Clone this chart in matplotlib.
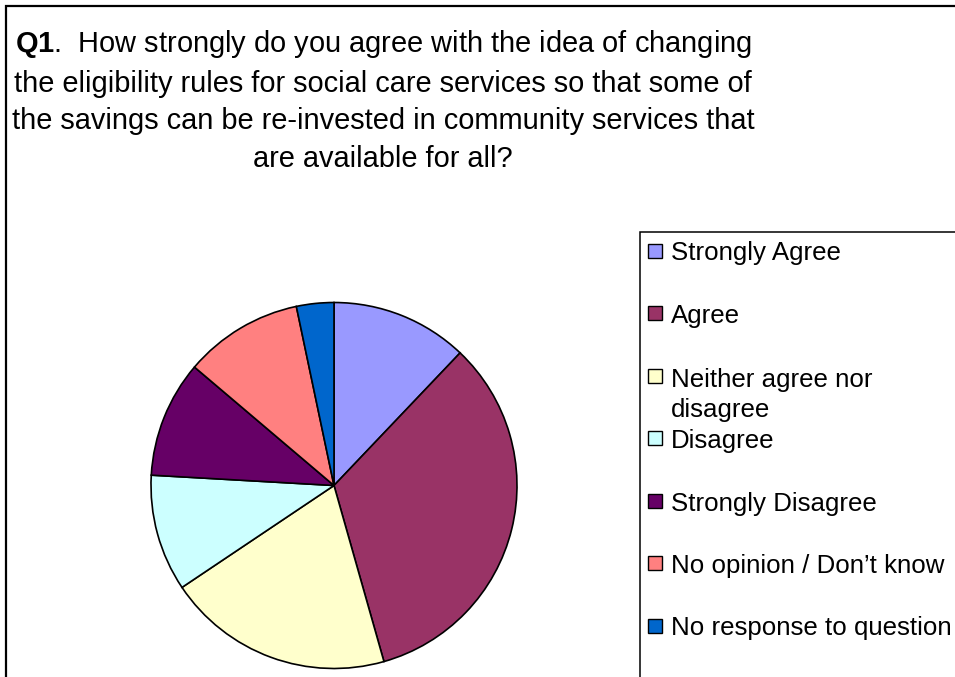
import matplotlib
matplotlib.use("Agg")
import matplotlib.pyplot as plt
from matplotlib.patches import Rectangle

# ---- data ----
categories = ["Strongly Agree", "Agree", "Neither agree nor\ndisagree", "Disagree",
              "Strongly Disagree", "No opinion / Don\u2019t know", "No response to question"]
values = [12.1, 33.5, 20.0, 10.3, 10.3, 10.5, 3.3]
colors = ["#9999FF", "#993366", "#FFFFCC", "#CCFFFF", "#660066", "#FF8080", "#0066CC"]
title_lines = ["$\\mathbf{Q1}$.  How strongly do you agree with the idea of changing",
               "the eligibility rules for social care services so that some of",
               "the savings can be re-invested in community services that",
               "are available for all?"]

plt.rcParams["font.family"] = ["Liberation Sans", "DejaVu Sans"]
plt.rcParams["mathtext.fontset"] = "custom"
plt.rcParams["mathtext.bf"] = "Liberation Sans:bold"
plt.rcParams["mathtext.rm"] = "Liberation Sans"

W, H = 955, 677
fig = plt.figure(figsize=(W / 100, H / 100), dpi=100)
fig.patch.set_facecolor("white")

def fx(x):
    return x / W

def fy(y):
    return 1 - y / H

# outer chart frame (runs off the right/bottom edges)
fig.patches.append(Rectangle((fx(6), fy(690)), fx(970 - 6), (690 - 6) / H,
                             transform=fig.transFigure, fill=False,
                             edgecolor="black", linewidth=1.6))

# title (anchored on the baseline of its last line)
fig.text(fx(383), fy(166.7), "\n".join(title_lines), ha="center", va="baseline",
         multialignment="center", fontsize=20.9, linespacing=1.43)

# pie
cx, cy, r = 334, 485.5, 183
ax = fig.add_axes([fx(cx - r), fy(cy + r), 2 * r / W, 2 * r / H])
ax.pie(values, colors=colors, startangle=90, counterclock=False,
       wedgeprops=dict(edgecolor="black", linewidth=1.2))
ax.set_xlim(-1, 1)
ax.set_ylim(-1, 1)
ax.set_aspect("equal")
ax.axis("off")

# legend box (runs off the right/bottom edges)
fig.patches.append(Rectangle((fx(640), fy(690)), fx(970 - 640), (690 - 232) / H,
                             transform=fig.transFigure, fill=False,
                             edgecolor="black", linewidth=1.1))
base0, step, line_h = 260.5, 62.5, 31.3
for i, (lab, col) in enumerate(zip(categories, colors)):
    b = base0 + i * step
    nlines = lab.count("\n")
    fig.patches.append(Rectangle((fx(648), fy(b - 3)), fx(14), 14 / H,
                                 transform=fig.transFigure, facecolor=col,
                                 edgecolor="black", linewidth=1.0))
    fig.text(fx(671), fy(b + nlines * line_h), lab, ha="left", va="baseline",
             fontsize=18.6, linespacing=1.33)

fig.savefig("out.png", dpi=100)
